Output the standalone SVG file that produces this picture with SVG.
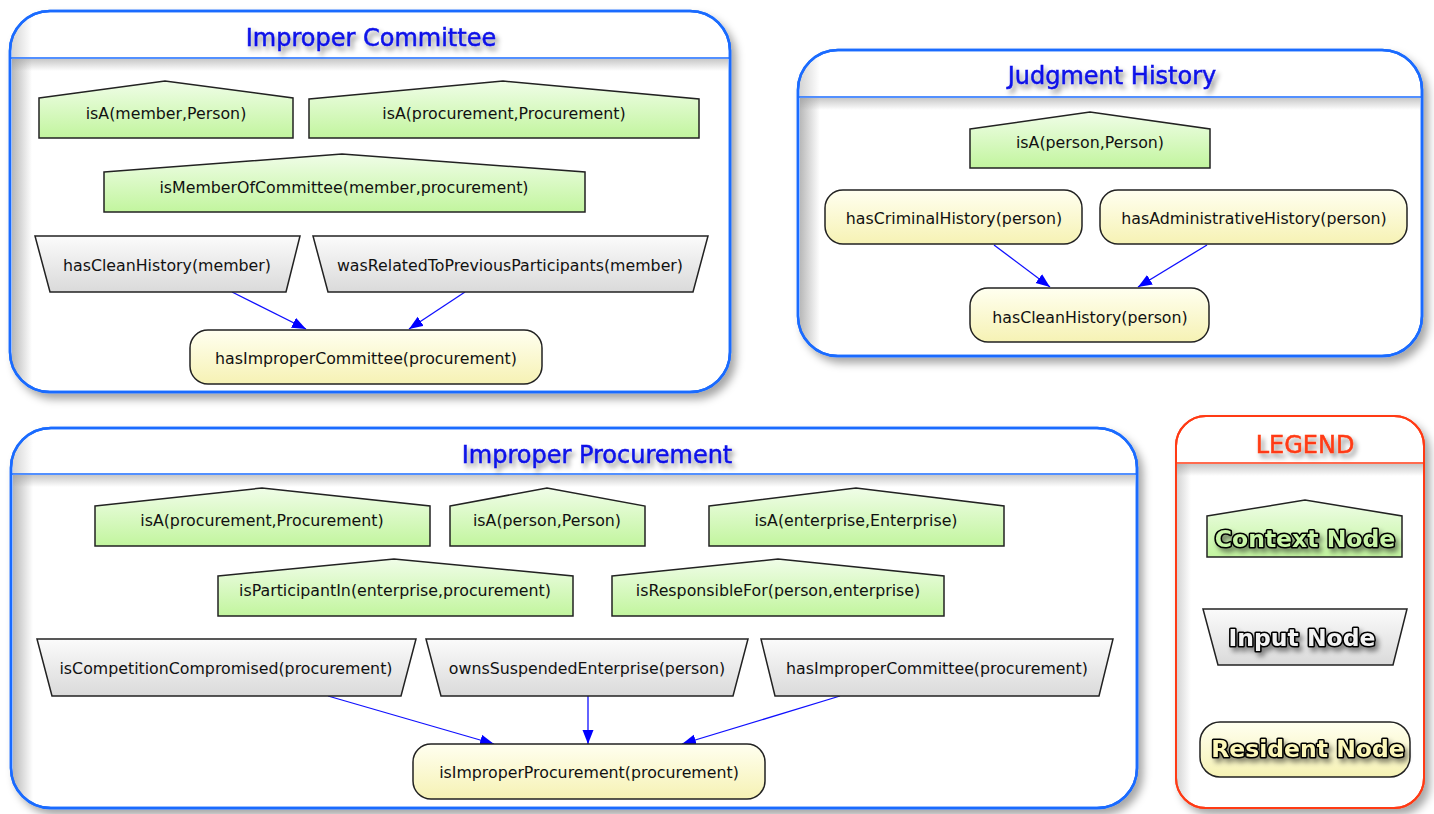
<svg xmlns="http://www.w3.org/2000/svg" width="1434" height="814" viewBox="0 0 1434 814">
  <defs>
    <style>
      .panel { fill: #ffffff; stroke: #1a6bff; stroke-width: 2.5; }
      .legend-panel { fill: #ffffff; stroke: #ff3a14; stroke-width: 2; }
      .sep { stroke: #1a6bff; stroke-width: 1.5; }
      .sep-red { stroke: #ff3a14; stroke-width: 1.5; }
      .title { font-family: "DejaVu Sans", "Liberation Sans", sans-serif; font-size: 24px; fill: #0a12e8; stroke: #0a12e8; stroke-width: 0.5; text-anchor: middle; }
      .ltitle { font-family: "DejaVu Sans", "Liberation Sans", sans-serif; font-size: 24px; fill: #ff3a14; stroke: #ff3a14; stroke-width: 0.5; text-anchor: middle; }
      .ctx { fill: url(#gCtx); stroke: #222; stroke-width: 1.5; }
      .inp { fill: url(#gInp); stroke: #222; stroke-width: 1.5; }
      .res { fill: url(#gRes); stroke: #222; stroke-width: 1.5; }
      .lbl { font-family: "DejaVu Sans", "Liberation Sans", sans-serif; font-size: 15.8px; fill: #111; text-anchor: middle; dominant-baseline: central; }
      .edge { stroke: #1010ff; stroke-width: 1.3; fill: none; marker-end: url(#arrow); }
      .fancy { font-family: "DejaVu Sans", "Liberation Sans", sans-serif; font-weight: bold; font-size: 23.5px; stroke: #000; stroke-width: 3.2; paint-order: stroke; stroke-linejoin: round; text-anchor: middle; dominant-baseline: central; }
    </style>
    <linearGradient id="gCtx" x1="0" y1="0" x2="0" y2="1">
      <stop offset="0" stop-color="#f0fde8"/>
      <stop offset="1" stop-color="#c2f59e"/>
    </linearGradient>
    <linearGradient id="gInp" x1="0" y1="0" x2="0" y2="1">
      <stop offset="0" stop-color="#fbfbfb"/>
      <stop offset="1" stop-color="#dadada"/>
    </linearGradient>
    <linearGradient id="gRes" x1="0" y1="0" x2="0" y2="1">
      <stop offset="0" stop-color="#fffff0"/>
      <stop offset="1" stop-color="#f6f2b4"/>
    </linearGradient>
    <linearGradient id="gSepShade" x1="0" y1="0" x2="0" y2="1">
      <stop offset="0" stop-color="#9a9a9a" stop-opacity="0.55"/>
      <stop offset="1" stop-color="#9a9a9a" stop-opacity="0"/>
    </linearGradient>
    <linearGradient id="gSideShade" x1="0" y1="0" x2="1" y2="0">
      <stop offset="0" stop-color="#8a8a8a" stop-opacity="0.6"/>
      <stop offset="1" stop-color="#8a8a8a" stop-opacity="0"/>
    </linearGradient>
    <filter id="panelShadow" x="-5%" y="-5%" width="112%" height="115%">
      <feDropShadow dx="5" dy="6" stdDeviation="4" flood-color="#000" flood-opacity="0.35"/>
    </filter>
    <filter id="textShadow" x="-10%" y="-30%" width="125%" height="180%">
      <feDropShadow dx="3" dy="4" stdDeviation="2.5" flood-color="#000" flood-opacity="0.45"/>
    </filter>
    <marker id="arrow" markerUnits="userSpaceOnUse" markerWidth="15" markerHeight="12" refX="14" refY="5.5" orient="auto">
      <path d="M0,0 L14,5.5 L0,11 Z" fill="#0000ff"/>
    </marker>
    <clipPath id="clipP1"><rect x="10" y="11" width="720" height="381" rx="40"/></clipPath>
    <clipPath id="clipP2"><rect x="798" y="50" width="624" height="306" rx="40"/></clipPath>
    <clipPath id="clipP3"><rect x="11" y="428" width="1126" height="380" rx="40"/></clipPath>
    <clipPath id="clipL"><rect x="1176" y="416" width="248" height="392" rx="30"/></clipPath>
  </defs>

  <rect width="1434" height="814" fill="#ffffff"/>

  <!-- Improper Committee frame -->
  <g id="panel-improper-committee">
    <rect class="panel" x="10" y="11" width="720" height="381" rx="40" filter="url(#panelShadow)"/>
    <g clip-path="url(#clipP1)">
      <rect x="12" y="59" width="20" height="333" fill="url(#gSideShade)"/>
      <rect x="12" y="59" width="716" height="12" fill="url(#gSepShade)"/>
      <rect x="12" y="12" width="20" height="46" fill="url(#gSideShade)" opacity="0.6"/>
    </g>
    <rect x="10" y="11" width="720" height="381" rx="40" fill="none" stroke="#1a6bff" stroke-width="2.5"/>
    <line class="sep" x1="10" y1="58" x2="730" y2="58"/>
    <text class="title" x="371" y="46" filter="url(#textShadow)">Improper Committee</text>
  </g>

  <!-- Judgment History frame -->
  <g id="panel-judgment-history">
    <rect class="panel" x="798" y="50" width="624" height="306" rx="40" filter="url(#panelShadow)"/>
    <g clip-path="url(#clipP2)">
      <rect x="800" y="98" width="20" height="258" fill="url(#gSideShade)"/>
      <rect x="800" y="98" width="620" height="12" fill="url(#gSepShade)"/>
      <rect x="800" y="51" width="20" height="46" fill="url(#gSideShade)" opacity="0.6"/>
    </g>
    <rect x="798" y="50" width="624" height="306" rx="40" fill="none" stroke="#1a6bff" stroke-width="2.5"/>
    <line class="sep" x1="798" y1="97" x2="1422" y2="97"/>
    <text class="title" x="1112" y="84" filter="url(#textShadow)">Judgment History</text>
  </g>

  <!-- Improper Procurement frame -->
  <g id="panel-improper-procurement">
    <rect class="panel" x="11" y="428" width="1126" height="380" rx="40" filter="url(#panelShadow)"/>
    <g clip-path="url(#clipP3)">
      <rect x="13" y="475" width="20" height="333" fill="url(#gSideShade)"/>
      <rect x="13" y="475" width="1122" height="12" fill="url(#gSepShade)"/>
      <rect x="13" y="429" width="20" height="45" fill="url(#gSideShade)" opacity="0.6"/>
    </g>
    <rect x="11" y="428" width="1126" height="380" rx="40" fill="none" stroke="#1a6bff" stroke-width="2.5"/>
    <line class="sep" x1="11" y1="474" x2="1137" y2="474"/>
    <text class="title" x="597" y="463" filter="url(#textShadow)">Improper Procurement</text>
  </g>

  <!-- Legend frame -->
  <g id="legend">
    <rect class="legend-panel" x="1176" y="416" width="248" height="392" rx="30" filter="url(#panelShadow)"/>
    <g clip-path="url(#clipL)">
      <rect x="1177" y="464" width="246" height="12" fill="url(#gSepShade)"/>
      <rect x="1177" y="464" width="14" height="344" fill="url(#gSideShade)" opacity="0.6"/>
    </g>
    <rect x="1176" y="416" width="248" height="392" rx="30" fill="none" stroke="#ff3a14" stroke-width="2"/>
    <line class="sep-red" x1="1176" y1="463" x2="1424" y2="463"/>
    <text class="ltitle" x="1305" y="453" filter="url(#textShadow)">LEGEND</text>

    <g id="legend-context">
      <path class="ctx" d="M1207,516 L1305,500 L1402,516 L1402,557 L1207,557 Z"/>
      <text class="fancy" x="1305" y="539" fill="#c8f5a8" filter="url(#textShadow)">Context Node</text>
    </g>
    <g id="legend-input">
      <path class="inp" d="M1203,609 L1407,609 L1393,665 L1218,665 Z"/>
      <text class="fancy" x="1302" y="638" fill="#f2f2f2" filter="url(#textShadow)">Input Node</text>
    </g>
    <g id="legend-resident">
      <rect class="res" x="1200" y="722" width="210" height="55" rx="20"/>
      <text class="fancy" x="1308" y="749" fill="#fbf6b8" filter="url(#textShadow)">Resident Node</text>
    </g>
  </g>

  <!-- Connectors -->
  <g id="connectors">
    <line class="edge" x1="232" y1="292" x2="306" y2="329"/>
    <line class="edge" x1="465" y1="292" x2="409" y2="329"/>
    <line class="edge" x1="994" y1="245" x2="1050" y2="287"/>
    <line class="edge" x1="1207" y1="245" x2="1138" y2="287"/>
    <line class="edge" x1="328" y1="696" x2="494" y2="744"/>
    <line class="edge" x1="588" y1="696" x2="588" y2="744"/>
    <line class="edge" x1="840" y1="696" x2="682" y2="744"/>
  </g>

  <!-- Improper Committee nodes -->
  <g id="ic-isA-member">
    <path class="ctx" d="M39,98 L165,81 L293,98 L293,138 L39,138 Z"/>
    <text class="lbl" x="166" y="113">isA(member,Person)</text>
  </g>
  <g id="ic-isA-procurement">
    <path class="ctx" d="M309,99 L503,81 L699,99 L699,138 L309,138 Z"/>
    <text class="lbl" x="504" y="113">isA(procurement,Procurement)</text>
  </g>
  <g id="ic-isMemberOfCommittee">
    <path class="ctx" d="M104,172 L342,154 L585,172 L585,212 L104,212 Z"/>
    <text class="lbl" x="344" y="187">isMemberOfCommittee(member,procurement)</text>
  </g>
  <g id="ic-hasCleanHistory">
    <path class="inp" d="M35,236 L300,236 L286,292 L50,292 Z"/>
    <text class="lbl" x="167" y="265">hasCleanHistory(member)</text>
  </g>
  <g id="ic-wasRelated">
    <path class="inp" d="M313,236 L708,236 L693,292 L328,292 Z"/>
    <text class="lbl" x="510" y="265">wasRelatedToPreviousParticipants(member)</text>
  </g>
  <g id="ic-hasImproperCommittee">
    <rect class="res" x="190" y="330" width="352" height="54" rx="18"/>
    <text class="lbl" x="366" y="358">hasImproperCommittee(procurement)</text>
  </g>

  <!-- Judgment History nodes -->
  <g id="jh-isA-person">
    <path class="ctx" d="M970,129 L1090,112 L1210,129 L1210,168 L970,168 Z"/>
    <text class="lbl" x="1090" y="142">isA(person,Person)</text>
  </g>
  <g id="jh-hasCriminalHistory">
    <rect class="res" x="825" y="190" width="257" height="54" rx="18"/>
    <text class="lbl" x="954" y="218">hasCriminalHistory(person)</text>
  </g>
  <g id="jh-hasAdministrativeHistory">
    <rect class="res" x="1100" y="190" width="307" height="54" rx="18"/>
    <text class="lbl" x="1254" y="218">hasAdministrativeHistory(person)</text>
  </g>
  <g id="jh-hasCleanHistory">
    <rect class="res" x="970" y="288" width="239" height="54" rx="18"/>
    <text class="lbl" x="1090" y="317">hasCleanHistory(person)</text>
  </g>

  <!-- Improper Procurement nodes -->
  <g id="ip-isA-procurement">
    <path class="ctx" d="M95,506 L262,488 L430,506 L430,546 L95,546 Z"/>
    <text class="lbl" x="262" y="520">isA(procurement,Procurement)</text>
  </g>
  <g id="ip-isA-person">
    <path class="ctx" d="M450,506 L547,488 L645,506 L645,546 L450,546 Z"/>
    <text class="lbl" x="547" y="520">isA(person,Person)</text>
  </g>
  <g id="ip-isA-enterprise">
    <path class="ctx" d="M709,506 L856,488 L1004,506 L1004,546 L709,546 Z"/>
    <text class="lbl" x="856" y="520">isA(enterprise,Enterprise)</text>
  </g>
  <g id="ip-isParticipantIn">
    <path class="ctx" d="M218,576 L394,559 L573,576 L573,616 L218,616 Z"/>
    <text class="lbl" x="395" y="590">isParticipantIn(enterprise,procurement)</text>
  </g>
  <g id="ip-isResponsibleFor">
    <path class="ctx" d="M612,576 L778,559 L944,576 L944,616 L612,616 Z"/>
    <text class="lbl" x="778" y="590">isResponsibleFor(person,enterprise)</text>
  </g>
  <g id="ip-isCompetitionCompromised">
    <path class="inp" d="M37,639 L416,639 L401,696 L52,696 Z"/>
    <text class="lbl" x="226" y="668">isCompetitionCompromised(procurement)</text>
  </g>
  <g id="ip-ownsSuspendedEnterprise">
    <path class="inp" d="M426,639 L748,639 L733,696 L441,696 Z"/>
    <text class="lbl" x="587" y="668">ownsSuspendedEnterprise(person)</text>
  </g>
  <g id="ip-hasImproperCommittee">
    <path class="inp" d="M761,639 L1113,639 L1099,696 L775,696 Z"/>
    <text class="lbl" x="937" y="668">hasImproperCommittee(procurement)</text>
  </g>
  <g id="ip-isImproperProcurement">
    <rect class="res" x="413" y="744" width="352" height="55" rx="18"/>
    <text class="lbl" x="589" y="772">isImproperProcurement(procurement)</text>
  </g>
</svg>
